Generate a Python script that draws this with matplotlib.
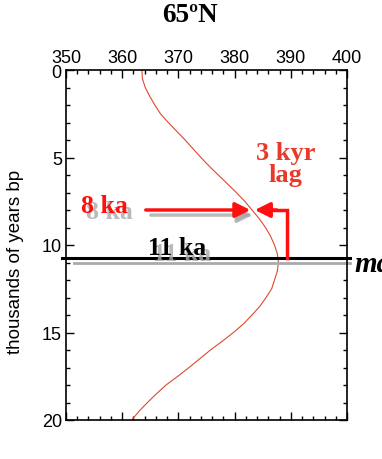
import matplotlib
matplotlib.use('Agg')
import matplotlib.pyplot as plt
import numpy as np
from matplotlib.ticker import MultipleLocator

# insolation at 65N (W/m2) vs age (ka)
age_ka = [0, 0.5, 1, 1.5, 2, 2.5, 3, 3.5, 4, 4.5, 5, 5.5, 6, 6.5, 7, 7.5, 8, 8.5, 9, 9.5,
          10, 10.5, 11, 11.5, 12, 12.5, 13, 13.5, 14, 14.5, 15, 15.5, 16, 16.5, 17,
          17.5, 18, 18.5, 19, 19.5, 20]
insol = [363.5, 363.6, 364.1, 364.9, 365.8, 366.8, 368.2, 369.7, 371.2, 372.6, 374.0,
         375.5, 377.1, 378.7, 380.3, 381.8, 383.1, 384.4, 385.5, 386.4, 387.1, 387.6,
         387.8, 387.6, 387.1, 386.6, 385.6, 384.5, 383.1, 381.6, 379.8, 377.8, 375.7,
         373.8, 371.9, 369.9, 367.8, 366.1, 364.5, 363.0, 361.7]

x_ticks = [350, 360, 370, 380, 390, 400]
y_ticks = [0, 5, 10, 15, 20]

max_black = 10.73   # black "11 ka" line
max_gray = 11.03    # gray shadow line
lag_y = 8.0
lag_start = 363.7
lag_tip = 383.3
lag_right = 389.3

serif = ['Liberation Serif', 'DejaVu Serif']
sans = ['Liberation Sans', 'DejaVu Sans']
red = '#ff1010'
curve_red = '#e0482e'
shadow = '#a8a8a8'

fig = plt.figure(figsize=(3.82, 4.6), dpi=100)
ax = fig.add_axes([66 / 382, 39 / 460, 281 / 382, 350 / 460])

ax.plot(insol, age_ka, color=curve_red, lw=0.8)

ax.set_xlim(350, 400)
ax.set_ylim(20, 0)
ax.set_xticks(x_ticks)
ax.set_yticks(y_ticks)
ax.xaxis.set_minor_locator(MultipleLocator(2))
ax.yaxis.set_minor_locator(MultipleLocator(1))
ax.tick_params(which='both', direction='in', top=True, right=True,
               labeltop=True, labelbottom=False, width=1, colors='black')
ax.tick_params(which='major', length=6, labelsize=13, pad=3)
ax.tick_params(which='minor', length=3)
for lab in ax.get_xticklabels() + ax.get_yticklabels():
    lab.set_family(sans)
for sp in ax.spines.values():
    sp.set_linewidth(1.2)

fig.text(16 / 382, 1 - 262 / 460, 'thousands of years bp', family=sans, fontsize=13.5,
         rotation=90, ha='center', va='center')

fig.text(0.497, 0.967, '65ºN', ha='center', va='center', family=serif,
         fontsize=19.5, fontweight='bold')

# horizontal lines at the maximum
ax.plot([351.5, 400.5], [max_gray, max_gray], color='#aaaaaa', lw=2, clip_on=False)
ax.plot([349.3, 400.5], [max_black, max_black], color='black', lw=2.2, clip_on=False)
ax.text(401.3, 11.05, 'max', family=serif, fontsize=21, fontweight='bold',
        style='italic', va='center', ha='left', clip_on=False)

# text labels with gray shadows
ax.text(361.9, 8.06, '8 ka', color=shadow, family=serif, fontsize=18.5,
        fontweight='bold', va='center', ha='right', alpha=0.8)
ax.text(361.0, 7.77, '8 ka', color=red, family=serif, fontsize=18.5,
        fontweight='bold', va='center', ha='right')
ax.text(370.7, 10.46, '11 ka', color=shadow, family=serif, fontsize=18.5,
        fontweight='bold', va='center', ha='center', alpha=0.8)
ax.text(369.8, 10.17, '11 ka', color='black', family=serif, fontsize=18.5,
        fontweight='bold', va='center', ha='center')
ax.text(lag_right - 0.2, 5.34, '3 kyr\nlag', color='#e8392a', family=serif, fontsize=19,
        fontweight='bold', va='center', ha='center', linespacing=0.9)

# arrows
head = '-|>,head_length=0.9,head_width=0.45'
ax.annotate('', xy=(lag_tip + 0.4, lag_y + 0.29), xytext=(lag_start + 0.9, lag_y + 0.29),
            arrowprops=dict(arrowstyle=head, color=shadow, lw=2.5, alpha=0.8))
ax.annotate('', xy=(lag_tip, lag_y), xytext=(lag_start, lag_y),
            arrowprops=dict(arrowstyle=head, color=red, lw=2.5))
ax.plot([lag_right, lag_right, 387.0], [max_black, lag_y, lag_y], color=red, lw=2.5,
        solid_joinstyle='miter')
ax.annotate('', xy=(lag_tip + 0.3, lag_y), xytext=(387.5, lag_y),
            arrowprops=dict(arrowstyle=head, color=red, lw=2.5, shrinkA=0, shrinkB=0))

fig.savefig('out.png', dpi=100)
